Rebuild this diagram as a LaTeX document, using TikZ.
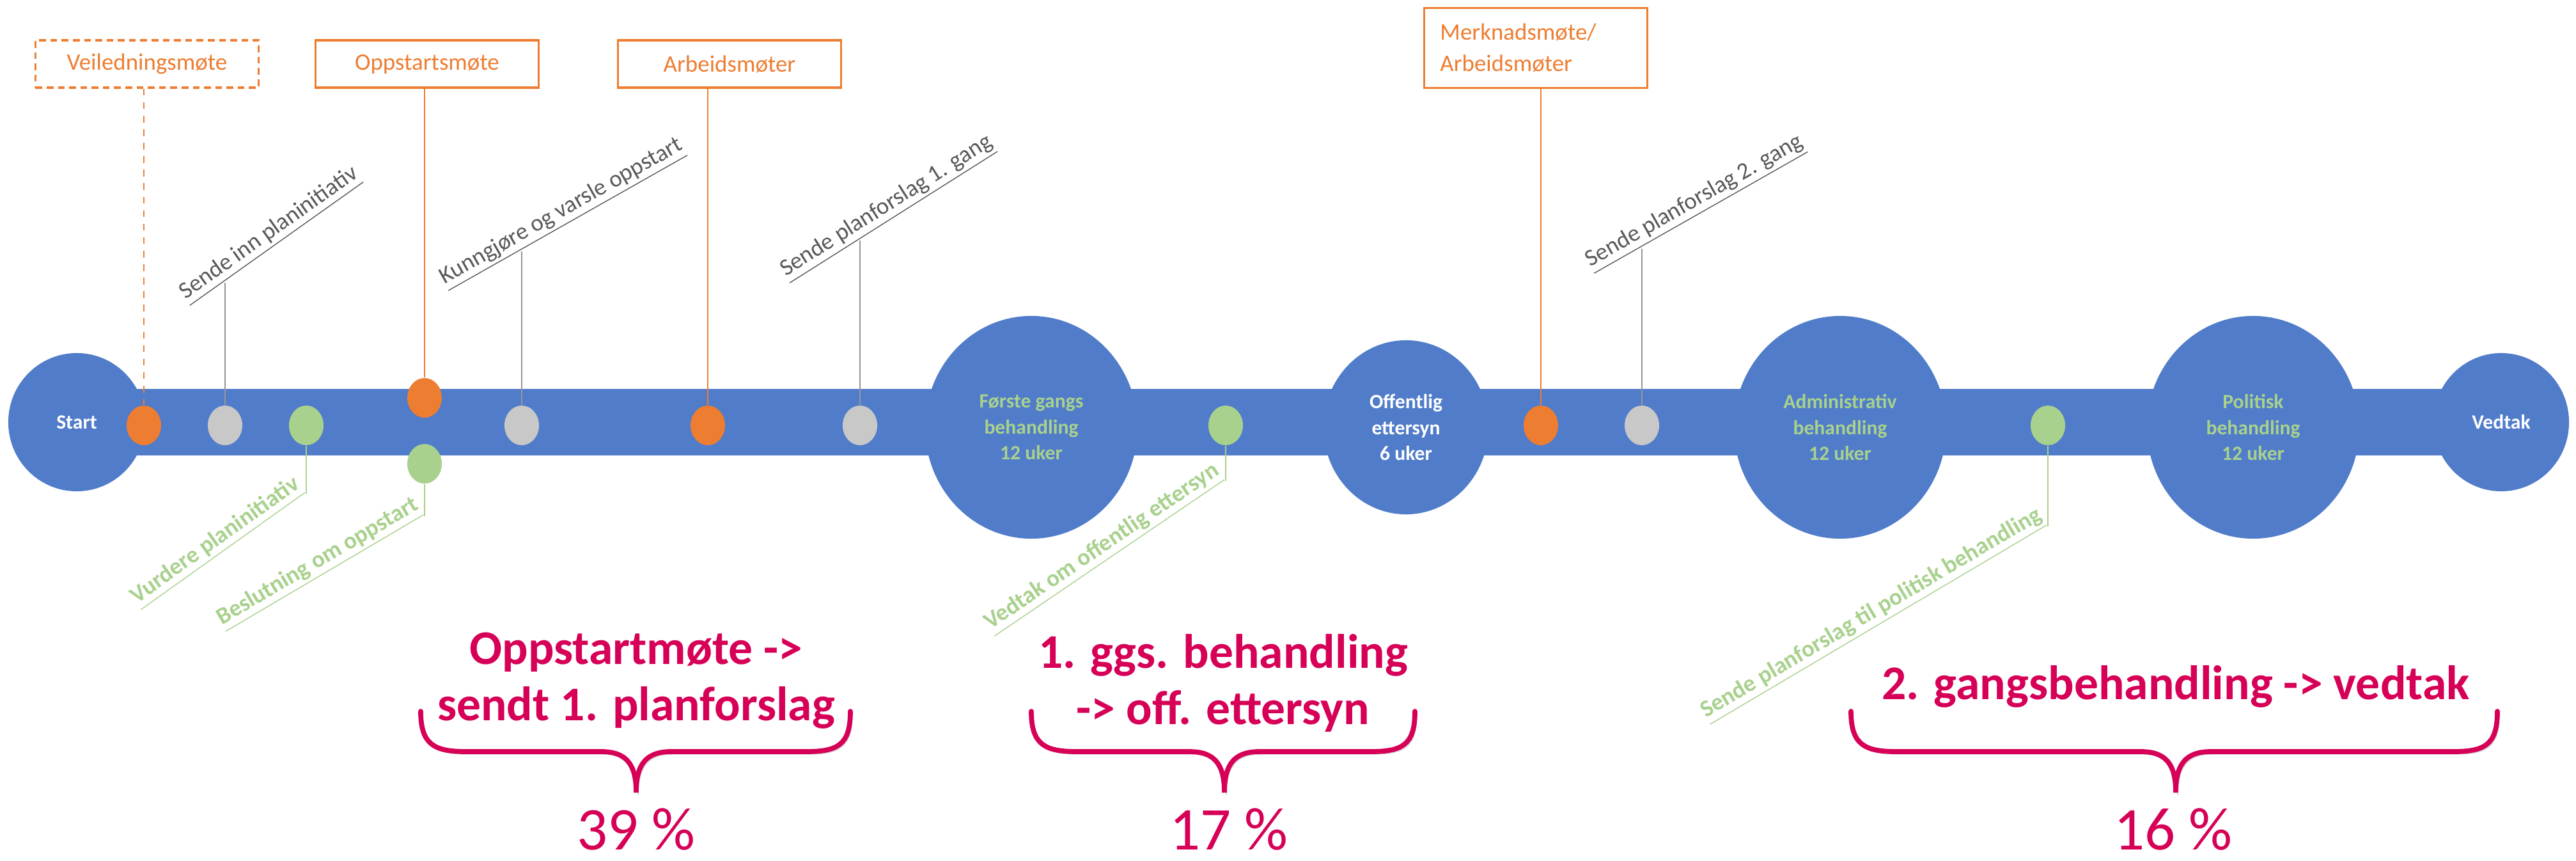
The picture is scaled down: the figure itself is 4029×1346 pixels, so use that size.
\documentclass[tikz,border=0pt]{standalone}
\usepackage{fontspec}
\setmainfont{Carlito}
\usetikzlibrary{positioning,shapes.geometric,backgrounds}

\definecolor{planblue}{HTML}{507CC9}
\definecolor{planorange}{HTML}{ED7D31}
\definecolor{plangrey}{HTML}{C8C8C8}
\definecolor{plangreen}{HTML}{A9D18E}
\definecolor{textgrey}{HTML}{595959}
\definecolor{linegrey}{HTML}{969696}
\definecolor{planpink}{HTML}{D60057}

\begin{document}
\begin{tikzpicture}[
    x=0.01cm, y=-0.01cm,
    phase/.style = {ellipse, fill=planblue, inner sep=0pt, align=center, font=\fontsize{9}{11.6}\selectfont\bfseries},
    big/.style = {phase, minimum width=3.32cm, minimum height=3.48cm},
    dot/.style = {ellipse, minimum width=0.54cm, minimum height=0.62cm, inner sep=0pt},
    meet/.style = {draw=planorange, line width=1pt, text=planorange, minimum width=3.49cm, minimum height=0.74cm, font=\fontsize{10.5}{14}\selectfont},
    task/.style = {text=textgrey, inner sep=0pt, anchor=south west, font=\fontsize{10.5}{12}\selectfont},
    act/.style = {text=plangreen, inner sep=0pt, anchor=south east, font=\fontsize{10.5}{12}\selectfont\bfseries},
    stage/.style = {text=planpink, align=center, font=\fontsize{21.5}{25.2}\selectfont\bfseries},
    share/.style = {text=planpink, anchor=base, font=\fontsize{27}{30}\selectfont},
    brace/.style = {draw=planpink, line width=2.2pt, line cap=round,
      preaction={draw=black!18, transform canvas={shift={(0.03cm,-0.04cm)}}}},
    lead/.style = {draw=linegrey, line width=0.5pt},
  ]
  \useasboundingbox (0,0) rectangle (4029,1346);

  % phases along the line
  \node[phase, minimum width=2.14cm, minimum height=2.16cm, text=white] (s) at (120,660) {Start};
  \node[big, text=plangreen] (p1) at (1613,668) {Første gangs\\behandling\\12 uker};
  \node[phase, minimum width=2.58cm, minimum height=2.72cm, text=white] (p2) at (2199,668) {Offentlig\\ettersyn\\6 uker};
  \node[big, text=plangreen] (p3) at (2878,668) {Administrativ\\behandling\\12 uker};
  \node[big, text=plangreen] (p4) at (3524,668) {Politisk\\behandling\\12 uker};
  \node[phase, minimum width=2.12cm, minimum height=2.16cm, text=white] (v) at (3912,660) {Vedtak};
  \begin{scope}[on background layer]
    \draw[planblue, line width=1.03cm] (s.center) -- (v.center);
  \end{scope}

  % meetings
  \node[meet, dashed, dash pattern=on 3pt off 2pt] (b1) at (230,100) {Veiledningsmøte};
  \node[meet] (b2) at (668,100) {Oppstartsmøte};
  \node[meet] (b3) at (1141,100) {Arbeidsmøter};
  \node[meet, minimum height=1.25cm, text width=2.99cm, align=left] (b4) at (2402,75) {Merknadsmøte/\\Arbeidsmøter};

  % steps above the line
  \node[task, rotate=35.4] (t1) at (298,480) {\underline{Sende inn planinitiativ}};
  \node[task, rotate=29.5] (t2) at (702,457) {\underline{Kunngjøre og varsle oppstart}};
  \node[task, rotate=32.3] (t3) at (1236,445) {\underline{Sende planforslag 1. gang}};
  \node[task, rotate=29.6] (t4) at (2494,430) {\underline{Sende planforslag 2. gang}};
  \coordinate (c1) at (352,442);
  \coordinate (c2) at (816,393);
  \coordinate (c3) at (1345,376);
  \coordinate (c4) at (2568,389);

  % decisions below the line
  \node[act, rotate=35.5] (u1) at (479,772) {\underline{Vurdere planinitiativ}};
  \node[act, rotate=30.5] (u2) at (664,807) {\underline{Beslutning om oppstart}};
  \node[act, rotate=34.2] (u3) at (1917,752) {\underline{Vedtak om offentlig ettersyn}};
  \node[act, rotate=30.6] (u4) at (3203,823) {\underline{Sende planforslag til politisk behandling}};

  % markers
  \node[dot, fill=planorange] (o1) at (225,665) {};
  \node[dot, fill=plangrey] (g1) at (352,665) {};
  \node[dot, fill=plangreen] (n1) at (479,665) {};
  \node[dot, fill=planorange] (o2) at (664,622) {};
  \node[dot, fill=plangreen] (n2) at (664,725) {};
  \node[dot, fill=plangrey] (g2) at (816,665) {};
  \node[dot, fill=planorange] (o3) at (1107,665) {};
  \node[dot, fill=plangrey] (g3) at (1345,665) {};
  \node[dot, fill=plangreen] (n3) at (1917,665) {};
  \node[dot, fill=planorange] (o4) at (2410,665) {};
  \node[dot, fill=plangrey] (g4) at (2568,665) {};
  \node[dot, fill=plangreen] (n4) at (3203,665) {};

  \draw[planorange, line width=0.5pt, dashed] (b1.south -| o1.north) -- (o1.north);
  \draw[planorange, line width=0.5pt] (b2.south -| o2.north) -- (o2.north);
  \draw[planorange, line width=0.5pt] (b3.south -| o3.north) -- (o3.north);
  \draw[planorange, line width=0.5pt] (b4.south -| o4.north) -- (o4.north);
  \draw[lead] (g1.north) -- (c1);
  \draw[lead] (g2.north) -- (c2);
  \draw[lead] (g3.north) -- (c3);
  \draw[lead] (g4.north) -- (c4);
  \draw[plangreen, line width=0.5pt] (n1.south) -- (u1.south east);
  \draw[plangreen, line width=0.5pt] (n2.south) -- (u2.south east);
  \draw[plangreen, line width=0.5pt] (n3.south) -- (u3.south east);
  \draw[plangreen, line width=0.5pt] (n4.south) -- (u4.south east);

  % shares of the time
  \node[stage] (a1) at (995,1064) {Oppstartmøte ->\\sendt 1. planforslag};
  \node[stage] (a2) at (1913,1068) {1. ggs. behandling\\-> off. ettersyn};
  \node[stage, anchor=base] (a3) at (3403,1093) {2. gangsbehandling -> vedtak};
  \draw[brace] (658,1112) .. controls (658,1165) and (680,1175) .. (730,1175) -- (940,1175)
    .. controls (980,1175) and (995,1195) .. (995,1239)
    .. controls (995,1195) and (1010,1175) .. (1050,1175) -- (1260,1175)
    .. controls (1310,1175) and (1330,1165) .. (1330,1112);
  \draw[brace] (1613,1112) .. controls (1613,1165) and (1635,1175) .. (1685,1175) -- (1860,1175)
    .. controls (1900,1175) and (1915,1195) .. (1915,1239)
    .. controls (1915,1195) and (1930,1175) .. (1970,1175) -- (2143,1175)
    .. controls (2193,1175) and (2213,1165) .. (2213,1112);
  \draw[brace] (2895,1112) .. controls (2895,1165) and (2917,1175) .. (2967,1175) -- (3348,1175)
    .. controls (3388,1175) and (3403,1195) .. (3403,1239)
    .. controls (3403,1195) and (3418,1175) .. (3458,1175) -- (3836,1175)
    .. controls (3886,1175) and (3906,1165) .. (3906,1112);
  \node[share] (q1) at (995,1328) {39 \%};
  \node[share] (q2) at (1922,1328) {17 \%};
  \node[share] (q3) at (3399,1328) {16 \%};
\end{tikzpicture}
\end{document}
